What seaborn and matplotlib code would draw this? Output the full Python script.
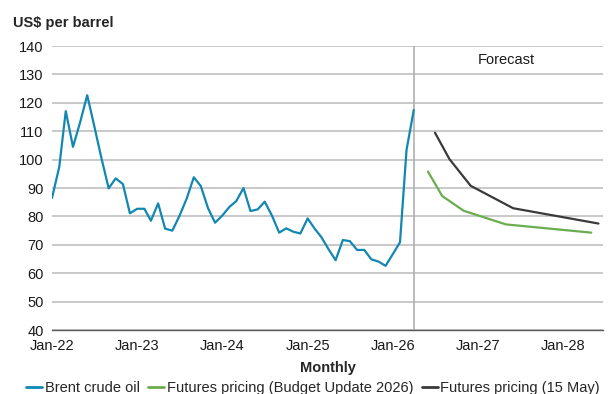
import numpy as np
import pandas as pd
import matplotlib.pyplot as plt
import matplotlib.dates as mdates
import seaborn as sns

# Brent crude, monthly, Jan-22 .. Apr-26
brent_values = [
    86.5, 97.4, 117.1, 104.5, 113.0, 122.7, 111.9, 100.5, 89.9, 93.4, 91.4, 81.1,
    82.7, 82.7, 78.5, 84.6, 75.7, 75.0, 80.1, 86.2, 93.8, 90.7, 82.9, 77.8,
    80.3, 83.4, 85.4, 90.0, 81.9, 82.5, 85.2, 80.3, 74.3, 75.8, 74.6, 74.0,
    79.3, 75.6, 72.7, 68.4, 64.6, 71.7, 71.3, 68.2, 68.2, 64.9, 64.1, 62.6,
    66.7, 70.9, 103.4, 117.5,
]
brent_dates = pd.date_range("2022-01-01", periods=len(brent_values), freq="MS")

budget_dates = pd.to_datetime(["2026-06-01", "2026-08-01", "2026-11-01", "2027-05-01", "2028-05-01"])
budget_values = [95.8, 87.2, 82.0, 77.2, 74.3]

may_dates = pd.to_datetime(["2026-07-01", "2026-09-01", "2026-12-01", "2027-06-01", "2028-06-01"])
may_values = [109.5, 100.2, 90.8, 82.9, 77.5]

series_names = ["Brent crude oil", "Futures pricing (Budget Update 2026)", "Futures pricing (15 May)"]
colors = ["#1287b1", "#6aad4f", "#3a3a3a"]

df = pd.concat([
    pd.DataFrame({"date": brent_dates, "price": brent_values, "series": series_names[0]}),
    pd.DataFrame({"date": budget_dates, "price": budget_values, "series": series_names[1]}),
    pd.DataFrame({"date": may_dates, "price": may_values, "series": series_names[2]}),
])

sns.set_theme(style="white")
plt.rcParams['font.family'] = ['Liberation Sans', 'DejaVu Sans']

fig, ax = plt.subplots(figsize=(6.09, 3.94), dpi=100)
fig.subplots_adjust(left=0.0854, right=0.990, top=0.883, bottom=0.1624)

sns.lineplot(data=df, x="date", y="price", hue="series", hue_order=series_names,
             palette=colors, linewidth=1.6, ax=ax, legend=False)

ax.set_ylim(40, 140)
ax.set_yticks(np.arange(40, 141, 10))
ax.set_xlim(pd.Timestamp("2022-01-01"), pd.Timestamp("2028-06-20"))
ax.xaxis.set_major_locator(mdates.YearLocator(month=1))
ax.xaxis.set_major_formatter(mdates.DateFormatter("%b-%y"))

ax.yaxis.grid(True, color="#c0c0c0", linewidth=1.2)
ax.set_axisbelow(True)
for s in ["left", "right", "top"]:
    ax.spines[s].set_visible(False)
ax.spines["bottom"].set_color("#595959")
ax.spines["bottom"].set_linewidth(1.0)
ax.tick_params(axis="x", which="major", direction="out", length=3.5, width=1,
               color="#595959", labelsize=10.5, labelcolor="#1a1a1a", pad=3)
ax.tick_params(axis="y", length=0, labelsize=10.5, labelcolor="#1a1a1a", pad=6)

ax.axvline(pd.Timestamp("2026-04-01"), color="#b0b0b0", linewidth=1.2, zorder=1)
ax.text(0.824, 135, "Forecast", transform=ax.get_yaxis_transform(), ha="center",
        va="center", fontsize=10.5, color="#1a1a1a")

ax.set_xlabel("Monthly", fontsize=10.5, fontweight="bold", labelpad=5.5)
ax.set_ylabel("")
fig.text(0.021, 0.942, "US$ per barrel", fontsize=10.5, fontweight="bold",
         ha="left", va="center")

handles = [plt.Line2D([0], [0], color=c, linewidth=2) for c in colors]
fig.legend(handles, series_names, loc="center", bbox_to_anchor=(0.514, 0.014),
           ncol=3, frameon=False, fontsize=10.5, handlelength=1.1,
           handletextpad=0.15, columnspacing=0.6, borderpad=0)

fig.savefig("out.png", dpi=100)
